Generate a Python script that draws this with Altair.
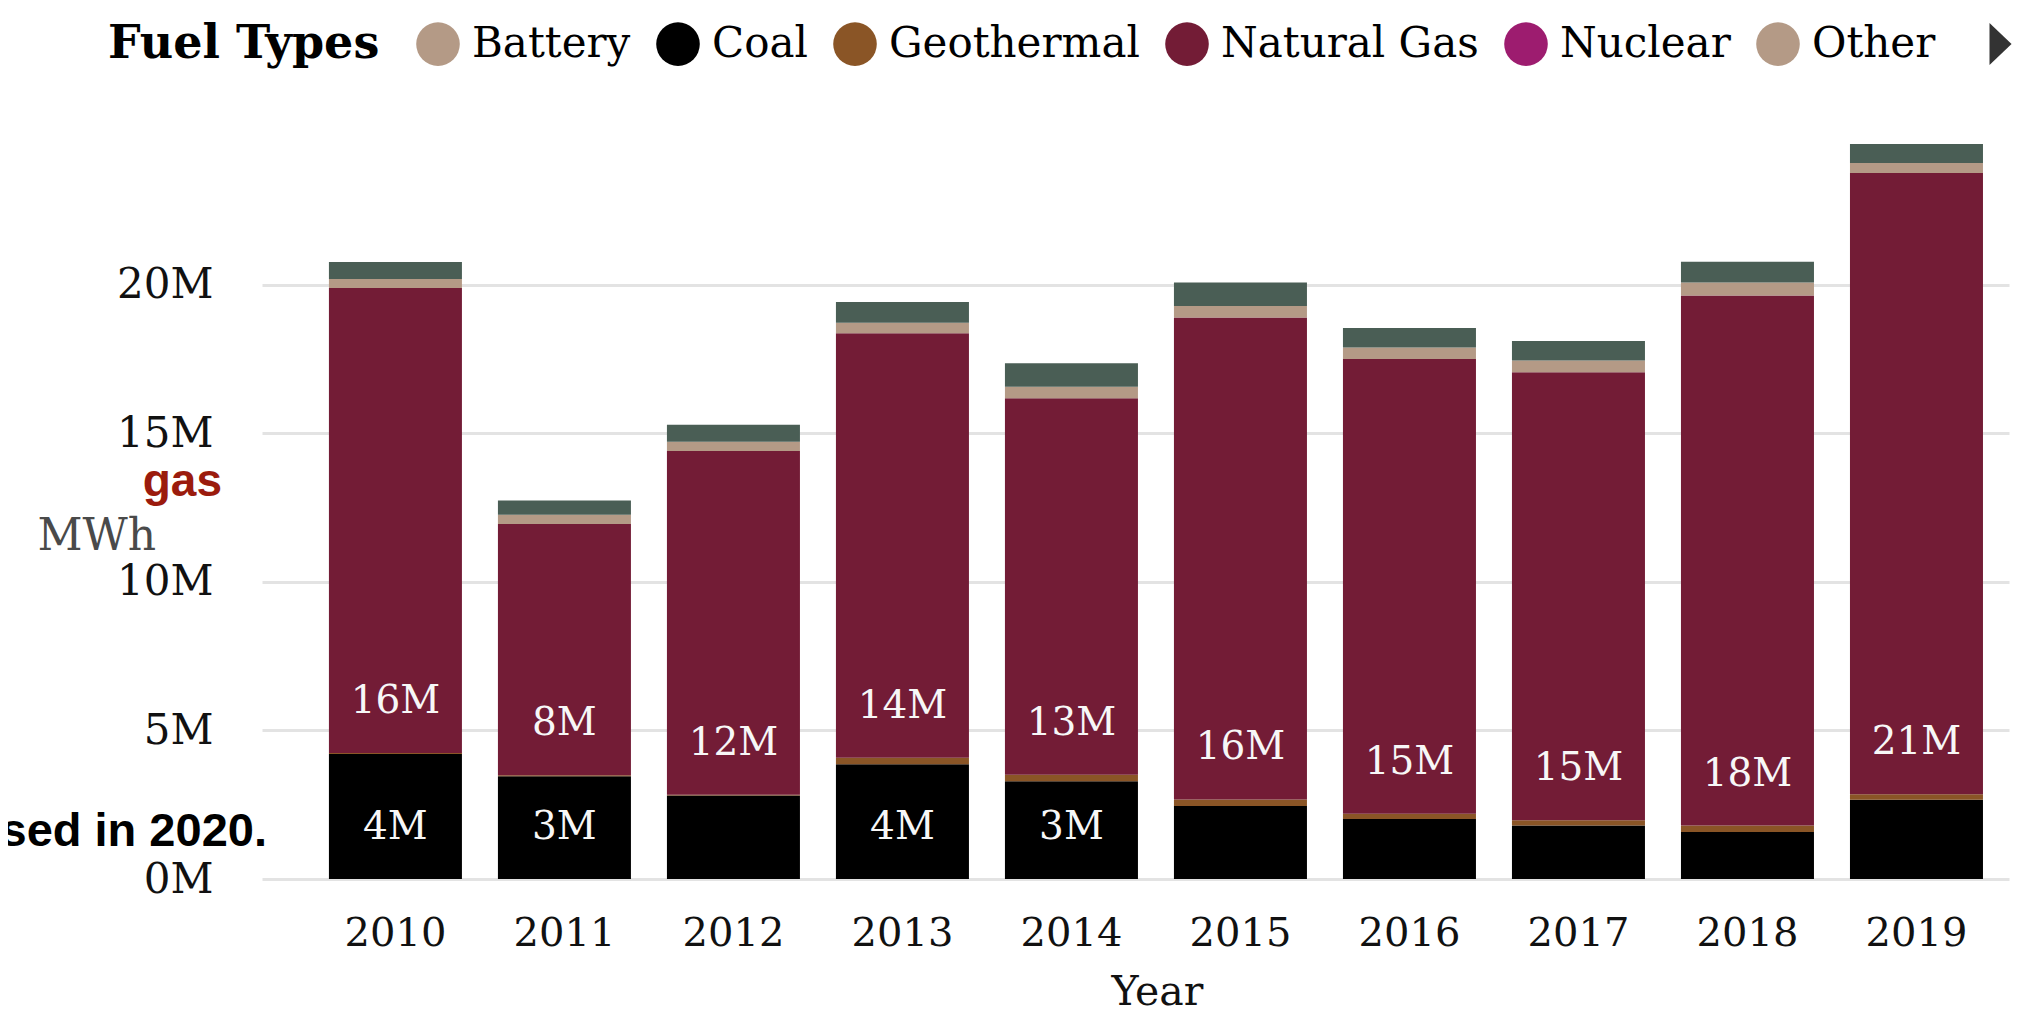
import altair as alt
import pandas as pd

# ---- data (million MWh) ----
years = ["2010", "2011", "2012", "2013", "2014", "2015", "2016", "2017", "2018", "2019"]
coal = [4.21, 3.46, 2.81, 3.86, 3.29, 2.46, 2.02, 1.80, 1.58, 2.67]
geothermal = [0.03, 0.03, 0.03, 0.22, 0.22, 0.22, 0.18, 0.18, 0.22, 0.18]
natural_gas = [15.65, 8.46, 11.57, 14.29, 12.67, 16.22, 15.30, 15.08, 17.84, 20.91]
other = [0.31, 0.31, 0.31, 0.35, 0.39, 0.39, 0.39, 0.39, 0.44, 0.34]
solar = [0.57, 0.48, 0.57, 0.70, 0.79, 0.79, 0.66, 0.66, 0.70, 0.64]

stack_fuels = ["Coal", "Geothermal", "Natural Gas", "Other", "Solar"]
stack_series = [coal, geothermal, natural_gas, other, solar]

legend_fuels = ["Battery", "Coal", "Geothermal", "Natural Gas", "Nuclear", "Other"]
color_domain = ["Battery", "Coal", "Geothermal", "Natural Gas", "Nuclear", "Other", "Solar"]
color_range = ["#b49a86", "#000000", "#8a5526", "#731c36", "#9d1c6f", "#b49a86", "#4a5e55"]

y_ticks = [0, 5e6, 10e6, 15e6, 20e6]

rows = []
for i, (fuel, series) in enumerate(zip(stack_fuels, stack_series)):
    for yr, v in zip(years, series):
        rows.append({"Year": yr, "Fuel": fuel, "MWh": v * 1e6, "order": i})
df = pd.DataFrame(rows)
ymax = float(df.groupby("Year")["MWh"].sum().max())

SERIF = "DejaVu Serif"

x_enc = alt.X(
    "Year:N",
    title="Year",
    scale=alt.Scale(paddingInner=0.213, paddingOuter=0.275, align=0.72),
    axis=alt.Axis(
        labelAngle=0, labelFontSize=40, labelPadding=34, labelColor="#111",
        ticks=False, domain=False, grid=False,
        titleFontSize=41, titleFontWeight="normal", titleColor="#111",
        titlePadding=19, titleX=895,
    ),
)

y_enc = alt.Y(
    "y0:Q",
    title="MWh",
    scale=alt.Scale(domain=[0, ymax], nice=False),
    axis=alt.Axis(
        values=y_ticks,
        labelExpr="datum.value / 1000000 + 'M'",
        labelFontSize=42, labelPadding=49, labelColor="#111",
        ticks=False, domain=False,
        grid=True, gridColor="#e3e3e3", gridWidth=3,
        titleAngle=0, titleAlign="left", titleBaseline="middle",
        titleX=-225, titleY=392, titleFontSize=44,
        titleFontWeight="normal", titleColor="#4a4a4a",
    ),
)

base = alt.Chart(df).transform_stack(
    stack="MWh",
    groupby=["Year"],
    sort=[alt.SortField("order", order="ascending")],
    as_=["y0", "y1"],
)

bars = base.mark_bar().encode(
    x=x_enc,
    y=y_enc,
    y2="y1:Q",
    color=alt.Color(
        "Fuel:N",
        scale=alt.Scale(domain=color_domain, range=color_range),
        legend=alt.Legend(
            title="Fuel Types",
            values=legend_fuels,
            orient="none", legendX=-154, legendY=-122,
            direction="horizontal",
            titleOrient="left", titleFont=SERIF, titleFontSize=46,
            titleFontWeight="bold", titleColor="#000", titlePadding=36,
            titleLimit=500, titleBaseline="middle",
            labelFont=SERIF, labelFontSize=42, labelColor="#000",
            labelOffset=12, labelLimit=500,
            symbolType="circle", symbolSize=1900, symbolStrokeWidth=0,
            symbolOpacity=1, columnPadding=25,
        ),
    ),
)

labels = base.transform_filter(
    "(datum.Fuel == 'Coal' || datum.Fuel == 'Natural Gas') && datum.MWh >= 3000000"
).transform_calculate(
    label="round(datum.MWh / 1000000) + 'M'"
).mark_text(
    font=SERIF, fontSize=39, color="#f7f7f7", dy=-52, baseline="middle"
).encode(
    x=x_enc,
    y=y_enc,
    text="label:N",
)

one = pd.DataFrame({"k": [1]})

arrow = alt.Chart(one).mark_point(
    shape="M -0.5 -1 L 0.55 0 L -0.5 1 Z", filled=True, color="#333333",
    size=1764, opacity=1,
).encode(x=alt.value(1738), y=alt.value(-100))

gas_note = alt.Chart(one).mark_text(
    text="gas", font="Liberation Sans", fontWeight="bold", fontSize=46,
    color="#9b1b0d", align="right", baseline="alphabetic",
).encode(x=alt.value(-40), y=alt.value(352))

closed_note = alt.Chart(one).mark_text(
    text="sed in 2020.", font="Liberation Sans", fontWeight="bold", fontSize=47,
    color="#000000", align="right", baseline="alphabetic",
).encode(x=alt.value(5), y=alt.value(702))

chart = alt.layer(bars, labels, arrow, gas_note, closed_note).properties(
    width=1747,
    height=735,
    autosize=alt.AutoSizeParams(type="none"),
    padding={"left": 254, "top": 136, "right": 22, "bottom": 131},
).configure_view(
    stroke=None
).configure_axis(
    labelFont=SERIF, titleFont=SERIF
)

chart.save("out.html", embed_options={"renderer": "svg", "actions": False})
